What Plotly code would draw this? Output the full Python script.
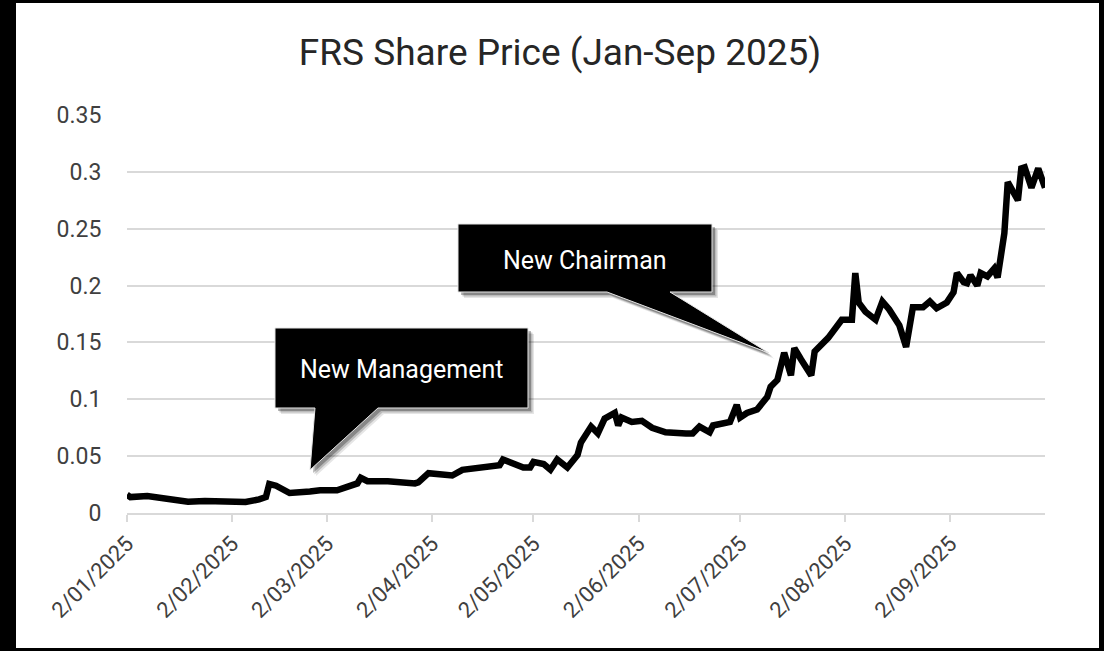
import plotly.graph_objects as go

# ---------------- data ----------------
dates = [
    "2025-01-02", "2025-01-03", "2025-01-08", "2025-01-14", "2025-01-20", "2025-01-25",
    "2025-02-02", "2025-02-06", "2025-02-10", "2025-02-12", "2025-02-13", "2025-02-15",
    "2025-02-19", "2025-02-21", "2025-02-25", "2025-02-28", "2025-03-04", "2025-03-05",
    "2025-03-11", "2025-03-12", "2025-03-14", "2025-03-20", "2025-03-28", "2025-03-29",
    "2025-04-01", "2025-04-07", "2025-04-08", "2025-04-11", "2025-04-18", "2025-04-22",
    "2025-04-23", "2025-04-26", "2025-04-29", "2025-05-01", "2025-05-02", "2025-05-05",
    "2025-05-07", "2025-05-09", "2025-05-12", "2025-05-15", "2025-05-16", "2025-05-19",
    "2025-05-21", "2025-05-23", "2025-05-26", "2025-05-27", "2025-05-28", "2025-05-31",
    "2025-06-03", "2025-06-06", "2025-06-10", "2025-06-16", "2025-06-18", "2025-06-20",
    "2025-06-23", "2025-06-24", "2025-06-29", "2025-07-01", "2025-07-02", "2025-07-04",
    "2025-07-07", "2025-07-10", "2025-07-11", "2025-07-13", "2025-07-15", "2025-07-17",
    "2025-07-18", "2025-07-20", "2025-07-23", "2025-07-24", "2025-07-28", "2025-08-01",
    "2025-08-04", "2025-08-05", "2025-08-06", "2025-08-08", "2025-08-11", "2025-08-13",
    "2025-08-15", "2025-08-18", "2025-08-20", "2025-08-22", "2025-08-25", "2025-08-27",
    "2025-08-29", "2025-09-01", "2025-09-03", "2025-09-04", "2025-09-06", "2025-09-07",
    "2025-09-08", "2025-09-10", "2025-09-11", "2025-09-13", "2025-09-15", "2025-09-16",
    "2025-09-18", "2025-09-19", "2025-09-22", "2025-09-23", "2025-09-24", "2025-09-26",
    "2025-09-28", "2025-09-30",
]
prices = [
    0.016, 0.014, 0.015, 0.013, 0.010, 0.0105,
    0.0105, 0.0097, 0.012, 0.014, 0.0255, 0.024,
    0.0176, 0.0176, 0.019, 0.020, 0.021, 0.020,
    0.026, 0.031, 0.028, 0.028, 0.026, 0.027,
    0.035, 0.034, 0.033, 0.038, 0.041, 0.042,
    0.047, 0.044, 0.040, 0.040, 0.045, 0.043,
    0.038, 0.047, 0.040, 0.051, 0.062, 0.076,
    0.070, 0.083, 0.088, 0.077, 0.084, 0.080,
    0.081, 0.075, 0.071, 0.070, 0.070, 0.076,
    0.071, 0.077, 0.080, 0.095, 0.084, 0.088,
    0.091, 0.102, 0.111, 0.117, 0.141, 0.121,
    0.145, 0.135, 0.121, 0.142, 0.154, 0.170,
    0.170, 0.211, 0.185, 0.177, 0.170, 0.186,
    0.179, 0.165, 0.146, 0.181, 0.181, 0.186,
    0.180, 0.185, 0.194, 0.211, 0.203, 0.202,
    0.209, 0.200, 0.211, 0.208, 0.215, 0.207,
    0.246, 0.291, 0.275, 0.303, 0.304, 0.286,
    0.303, 0.286,
]

x_tick_dates = ["2025-01-02", "2025-02-02", "2025-03-02", "2025-04-02", "2025-05-02",
                "2025-06-02", "2025-07-02", "2025-08-02", "2025-09-02"]
x_tick_labels = ["2/01/2025", "2/02/2025", "2/03/2025", "2/04/2025", "2/05/2025",
                 "2/06/2025", "2/07/2025", "2/08/2025", "2/09/2025"]
y_tick_vals = [0, 0.05, 0.1, 0.15, 0.2, 0.25, 0.3, 0.35]
y_tick_labels = ["0", "0.05", "0.1", "0.15", "0.2", "0.25", "0.3", "0.35"]

title_text = "FRS Share Price (Jan-Sep 2025)"
callout_texts = ["New Management", "New Chairman"]

# ---------------- layout geometry (pixels) ----------------
W, H = 1104, 651
PL, PR, PT, PB = 127, 1045, 115, 513  # plot area in pixels


def px(x):
    return (x - PL) / (PR - PL)


def py(y):
    return (PB - y) / (PB - PT)


def path(points, dx=0, dy=0):
    s = ""
    for i, (a, b) in enumerate(points):
        s += ("M" if i == 0 else "L") + f"{px(a + dx):.5f},{py(b + dy):.5f} "
    return s + "Z"


callout1 = [(275, 328), (528, 328), (528, 408), (378, 408), (310, 470), (315, 408), (275, 408)]
callout2 = [(458, 224), (712, 224), (712, 292), (670, 292), (769, 353), (607, 292), (458, 292)]
callout_centers = [(401, 369), (585, 260)]

fig = go.Figure()
fig.add_trace(go.Scatter(
    x=dates, y=prices, mode="lines",
    line=dict(color="black", width=6.5),
    hoverinfo="skip", showlegend=False,
))

shapes = [
    dict(type="rect", xref="paper", yref="paper", layer="below",
         x0=px(16), x1=px(1099), y0=py(648), y1=py(3),
         fillcolor="white", line=dict(width=0)),
]
for poly in (callout1, callout2):
    for off, op in ((6, 0.10), (4.5, 0.18), (3, 0.28)):
        shapes.append(dict(type="path", xref="paper", yref="paper",
                           path=path(poly, off, off), fillcolor="#000000",
                           opacity=op, line=dict(width=0)))
    shapes.append(dict(type="path", xref="paper", yref="paper",
                       path=path(poly), fillcolor="black",
                       line=dict(color="#e6e6e6", width=1)))

annotations = []
for txt, (cx, cy) in zip(callout_texts, callout_centers):
    annotations.append(dict(
        text=txt, xref="paper", yref="paper", x=px(cx), y=py(cy),
        xanchor="center", yanchor="middle", showarrow=False,
        font=dict(family="Roboto, sans-serif", size=25, color="white"),
    ))

fig.update_layout(
    width=W, height=H,
    margin=dict(l=PL, r=W - PR, t=PT, b=H - PB, pad=0),
    paper_bgcolor="black",
    plot_bgcolor="white",
    title=dict(text=title_text, xref="container", yref="container",
               x=560 / W, y=1 - 52 / H, xanchor="center", yanchor="middle",
               font=dict(family="Roboto, sans-serif", size=37, color="#262626")),
    xaxis=dict(
        type="date", range=["2025-01-02", "2025-09-30"],
        tickvals=x_tick_dates, ticktext=x_tick_labels, tickangle=-45,
        ticks="outside", ticklen=7, tickwidth=2, tickcolor="#d9d9d9",
        showline=True, linecolor="#d9d9d9", linewidth=2,
        showgrid=False, zeroline=False,
        tickfont=dict(family="Roboto, sans-serif", size=22, color="#404040"),
    ),
    yaxis=dict(
        range=[0, 0.35], tickvals=y_tick_vals, ticktext=y_tick_labels,
        ticks="outside", ticklen=20, tickcolor="rgba(0,0,0,0)",
        showgrid=True, gridcolor="#d9d9d9", gridwidth=2,
        zeroline=False, showline=False,
        tickfont=dict(family="Roboto, sans-serif", size=23, color="#404040"),
    ),
    shapes=shapes,
    annotations=annotations,
    showlegend=False,
)

fig.write_html(
    "out.html",
    config={"displayModeBar": False},
    post_script="document.body.style.margin='0';document.body.style.background='black';",
)
